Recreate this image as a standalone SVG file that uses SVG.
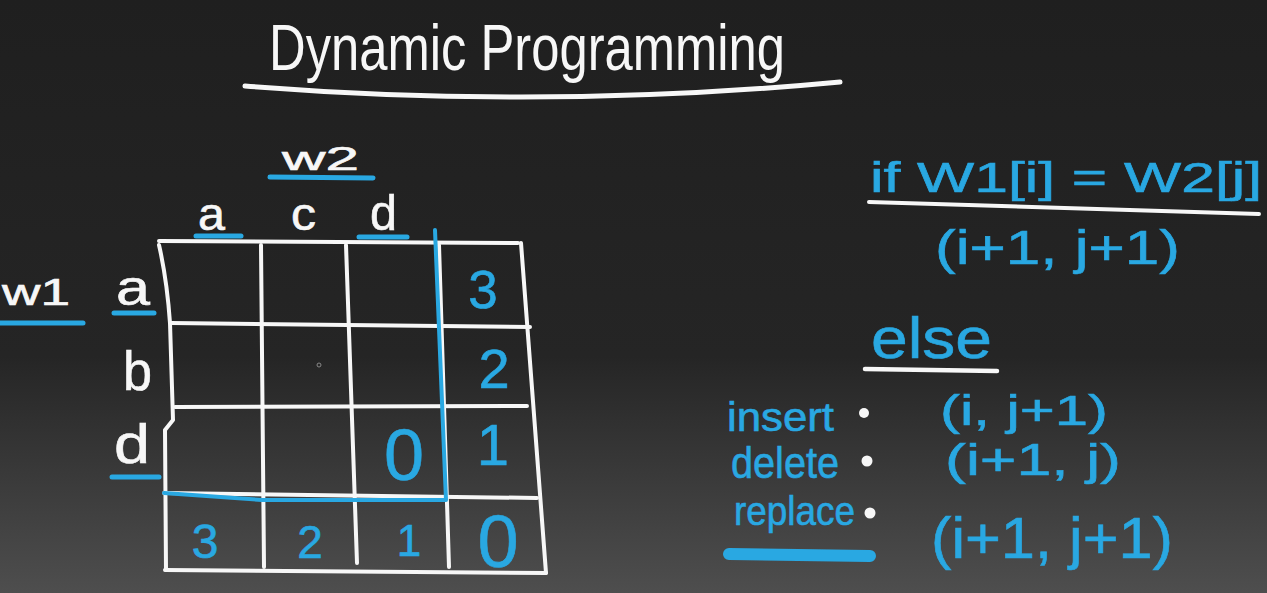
<svg xmlns="http://www.w3.org/2000/svg" width="1267" height="593" viewBox="0 0 1267 593">
<defs>
<linearGradient id="bg" x1="0" y1="0" x2="0" y2="1">
<stop offset="0" stop-color="#1f1f1f"/>
<stop offset="0.6" stop-color="#252525"/>
<stop offset="1" stop-color="#4e4e4e"/>
</linearGradient>
<style>
.w{fill:#f7f7f7;stroke:#f7f7f7;stroke-width:0.6;font-family:"Liberation Sans","DejaVu Sans",sans-serif}
.b{fill:#29a8e2;stroke:#29a8e2;stroke-width:0.6;font-family:"Liberation Sans","DejaVu Sans",sans-serif}
.wl{stroke:#f7f7f7;stroke-width:4;fill:none;stroke-linecap:round;stroke-linejoin:round}
.bl{stroke:#29a8e2;stroke-width:4;fill:none;stroke-linecap:round;stroke-linejoin:round}
.bu{stroke:#29a8e2;stroke-width:5;fill:none;stroke-linecap:round}
</style>
</defs>
<rect width="1267" height="593" fill="url(#bg)"/>

<g id="title">
<text class="w" style="stroke-width:0" x="269" y="70" font-size="64" textLength="516" lengthAdjust="spacingAndGlyphs">Dynamic Programming</text>
<path class="wl" style="stroke-width:5" d="M245,86 Q545,110 840,82"/>
</g>

<g id="grid">
<path class="wl" d="M159,241 L518,243"/>
<path class="wl" d="M159,245 Q167,280 170,323 L173,420 L165,430 L166,570"/>
<path class="wl" d="M261,245 L264,567"/>
<path class="wl" d="M346,245 L357,563"/>
<path class="wl" d="M439,245 L449,567"/>
<path class="wl" d="M521,243 L546,573"/>
<path class="wl" d="M171,323 L530,327"/>
<path class="wl" d="M175,407 L527,406"/>
<path class="wl" d="M164,493 L537,498"/>
<path class="wl" d="M165,570 L546,573"/>
<circle cx="319" cy="365" r="2" fill="none" stroke="#888" stroke-width="1"/>
</g>

<g id="path-highlight">
<path class="bl" d="M435,230 L446,500 L262,500 L164,493"/>
</g>

<g id="w2-header">
<text class="w" x="282" y="170" font-size="34" textLength="77" lengthAdjust="spacingAndGlyphs">w2</text>
<path class="bu" d="M270,177 L373,178"/>
<text class="w" x="198" y="230" font-size="46" textLength="27" lengthAdjust="spacingAndGlyphs">a</text>
<text class="w" x="291" y="230" font-size="46" textLength="25" lengthAdjust="spacingAndGlyphs">c</text>
<text class="w" x="370" y="230" font-size="50" textLength="27" lengthAdjust="spacingAndGlyphs">d</text>
<path class="bu" d="M196,236 L241,236"/>
<path class="bu" d="M359,237 L407,237"/>
</g>

<g id="w1-header">
<text class="w" x="2" y="305" font-size="36" textLength="68" lengthAdjust="spacingAndGlyphs">w1</text>
<path class="bu" d="M0,323 L83,323"/>
<text class="w" x="116" y="305" font-size="50" textLength="34" lengthAdjust="spacingAndGlyphs">a</text>
<path class="bu" d="M114,313 L154,313"/>
<text class="w" x="123" y="390" font-size="56" textLength="29" lengthAdjust="spacingAndGlyphs">b</text>
<text class="w" x="114" y="463" font-size="55" textLength="36" lengthAdjust="spacingAndGlyphs">d</text>
<path class="bu" d="M112,477 L159,477"/>
</g>

<g id="values" text-anchor="middle">
<text class="b" x="483" y="308" font-size="53">3</text>
<text class="b" x="494" y="388" font-size="56">2</text>
<text class="b" x="493" y="465" font-size="58">1</text>
<text class="b" x="404" y="480" font-size="72">0</text>
<text class="b" x="205" y="558" font-size="48">3</text>
<text class="b" x="310" y="558" font-size="46">2</text>
<text class="b" x="409" y="556" font-size="44">1</text>
<text class="b" x="498" y="567" font-size="74">0</text>
</g>

<g id="rule-if">
<text class="b" x="870" y="192" font-size="42" textLength="392" lengthAdjust="spacingAndGlyphs">if W1[i] = W2[j]</text>
<path class="wl" d="M869,202 L1259,214"/>
<text class="b" x="935" y="264" font-size="48" textLength="245" lengthAdjust="spacingAndGlyphs">(i+1, j+1)</text>
</g>

<g id="rule-else">
<text class="b" x="871" y="358" font-size="58" textLength="121" lengthAdjust="spacingAndGlyphs">else</text>
<path class="wl" style="stroke-width:4.5" d="M865,369 L997,371"/>
</g>

<g id="insert">
<text class="b" x="727" y="431" font-size="40" textLength="107" lengthAdjust="spacingAndGlyphs">insert</text>
<circle cx="864" cy="413" r="5" fill="#f7f7f7"/>
<text class="b" x="940" y="425" font-size="42" textLength="168" lengthAdjust="spacingAndGlyphs">(i, j+1)</text>
</g>

<g id="delete">
<text class="b" x="731" y="478" font-size="44" textLength="108" lengthAdjust="spacingAndGlyphs">delete</text>
<circle cx="867" cy="461" r="5.5" fill="#f7f7f7"/>
<text class="b" x="945" y="475" font-size="44" textLength="176" lengthAdjust="spacingAndGlyphs">(i+1, j)</text>
</g>

<g id="replace">
<text class="b" x="734" y="525" font-size="40" textLength="121" lengthAdjust="spacingAndGlyphs">replace</text>
<circle cx="870" cy="513" r="5.5" fill="#f7f7f7"/>
<path class="bu" style="stroke-width:12" d="M729,554 L870,556"/>
<text class="b" x="931" y="558" font-size="58" textLength="242" lengthAdjust="spacingAndGlyphs">(i+1, j+1)</text>
</g>
</svg>
